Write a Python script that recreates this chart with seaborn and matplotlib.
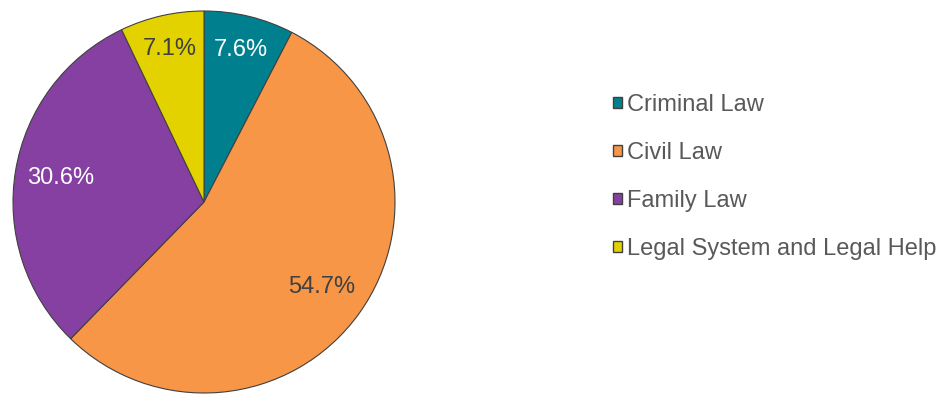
import matplotlib
matplotlib.use("Agg")
import matplotlib.pyplot as plt
import seaborn as sns
import numpy as np

categories = ["Criminal Law", "Civil Law", "Family Law", "Legal System and Legal Help"]
shares = [7.6, 54.7, 30.6, 7.1]
colors = ["#00808F", "#F79646", "#8540A1", "#E3D200"]
label_colors = ["white", "#404040", "white", "#404040"]

sns.set_theme(style="white")
plt.rcParams["font.family"] = ["Liberation Sans", "DejaVu Sans"]
palette = sns.color_palette(colors)

fig = plt.figure(figsize=(9.4, 3.94), dpi=100)
ax = fig.add_axes([13 / 940, 1 / 394, 382 / 940, 382 / 394])

wedges, texts, autotexts = ax.pie(
    shares,
    colors=palette,
    startangle=90,
    counterclock=False,
    autopct="%.1f%%",
    pctdistance=0.76,
    wedgeprops=dict(edgecolor="#404040", linewidth=0.8),
    textprops=dict(fontsize=17),
    radius=1.0,
)
for w, t, c, s in zip(wedges, autotexts, label_colors, shares):
    t.set_color(c)
    if s < 10:
        ang = np.deg2rad((w.theta1 + w.theta2) / 2)
        t.set_position((0.82 * np.cos(ang), 0.82 * np.sin(ang)))
ax.set_xlim(-1, 1)
ax.set_ylim(-1, 1)
ax.set_aspect("equal")

leg = fig.legend(
    wedges,
    categories,
    loc="center left",
    bbox_to_anchor=(604 / 940, (394 - 177) / 394),
    frameon=False,
    fontsize=17,
    handlelength=0.38,
    handleheight=0.38,
    handletextpad=0.2,
    labelspacing=1.1,
    borderaxespad=0,
)
for t in leg.get_texts():
    t.set_color("#595959")
for h in leg.legend_handles:
    h.set_linewidth(1.0)
    h.set_edgecolor("#404040")

fig.savefig("out.png", dpi=100)
